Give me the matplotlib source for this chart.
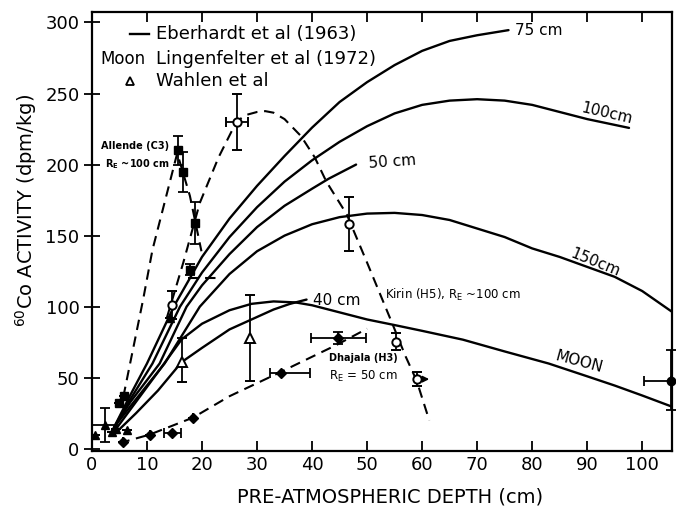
import matplotlib
matplotlib.use("Agg")
import matplotlib.pyplot as plt
import numpy as np

plt.rcParams['font.family'] = ['DejaVu Sans']
plt.rcParams['mathtext.fontset'] = 'dejavusans'

# --- model curves (Eberhardt et al 1963; Moon: Lingenfelter et al 1972) ---
r75_x = [4, 7, 10, 15, 20, 25, 30, 35, 40, 45, 50, 55, 60, 65, 70, 75.7]
r75_y = [15, 38, 60, 101, 135, 162, 185, 206, 226, 244, 258, 270, 280, 287, 291, 294.6]

r100_x = [4, 7, 11, 16, 20, 25, 30, 35, 40, 45, 50, 55, 60, 65, 70, 75, 80, 85, 90, 97.6]
r100_y = [15, 35, 60, 100, 124, 149, 170, 188, 203, 216, 227, 236, 242, 245, 246, 245, 242, 237, 232, 225.8]

r50_x = [4, 7, 12.3, 17.2, 20, 25, 30, 35, 40, 43, 48]
r50_y = [15, 33, 60, 100, 115, 137, 156, 171, 183, 190, 200]

r150_x = [4, 7, 13.2, 19.6, 25, 30, 35, 40, 45, 50, 55, 60, 65, 70, 75, 80, 85, 90, 95, 100, 105.3]
r150_y = [15, 30, 60, 100, 123, 139, 150, 158, 163, 165.5, 166, 164.5, 161, 155, 149, 141, 135, 128, 121, 111, 96.7]

r40_x = [4, 8, 12, 16.3, 20, 25, 29, 33, 36, 39]
r40_y = [10, 25, 41, 61, 71, 84, 91, 98, 102, 105]

moon_x = [4, 8, 12, 16.3, 20, 25, 29, 33, 37, 40, 45, 50, 54.7, 60, 67.4, 75, 83, 90, 95, 100, 105.3]
moon_y = [12, 33, 54, 77, 88, 97.5, 102, 103.7, 103, 101, 96, 91, 87.3, 83, 76.8, 68.5, 60, 51, 44.5, 37.5, 29.8]

# --- dashed trend lines through the meteorite data ---
allende_line_x = [5.7, 9.3, 11, 15.5, 17.8, 19.9]
allende_line_y = [36.5, 105, 140, 208, 178, 139]
allende_bar_x = [17.5, 23]
allende_bar_y = [120, 120]

kirin_line_x = [13.6, 16.6, 19.6, 23, 26.3, 28.1, 30, 31.5, 33, 35, 38, 40.5, 42.6, 46.3, 50, 54.7, 57, 59, 61.3]
kirin_line_y = [92, 131, 173, 205, 230.5, 235, 237, 237.6, 236.5, 232, 220, 205, 188, 165, 131, 87, 65, 48, 20]

dhajala_line_x = [5, 10.5, 18.4, 25, 34, 44.4, 50]
dhajala_line_y = [4, 10, 22, 37, 53.5, 73, 84.5]

# --- measurements ---
allende_x = [15.6, 16.6, 18.7, 17.8, 5.0, 5.8]
allende_y = [210, 195, 159, 126, 32, 37]
allende_err = [10, 14, 15, 4, 0, 0]

kirin_x = [14.5, 26.3, 46.8, 55.3, 59.0]
kirin_y = [101, 230, 158, 75.5, 49]
kirin_yerr = [10, 20, 19, 6, 5]
kirin_xerr = [0, 2, 0, 0, 0]

dhajala_x = [5.7, 10.5, 14.6, 18.3, 34.3, 44.8]
dhajala_y = [4.5, 10, 11, 21.5, 53.3, 78]
dhajala_xerr_lo = [0, 0, 1.5, 0, 2, 5]
dhajala_xerr_hi = [0, 0, 1.5, 0, 5.3, 5]
dhajala_yerr = [0, 0, 0, 0, 0, 4]

wahlen_x = [16.3, 28.7]
wahlen_y = [61, 78]
wahlen_err_lo = [14, 30]
wahlen_err_hi = [17, 30]

small_x = [0.5, 2.4, 3.6, 4.4, 6.3, 14.2]
small_y = [10, 17, 12, 14, 13.5, 92]
small_err = [0, 12, 0, 0, 0, 0]
small_bar_x = [0, 4.5]
small_bar_y = [16.5, 16.5]

edge_x = [105.2]
edge_y = [48]
edge_xerr = [4.8]
edge_yerr_lo = [20.5]
edge_yerr_hi = [21.5]

# --- figure ---
fig = plt.figure(figsize=(6.76, 5.13), dpi=100)
ax = fig.add_axes([0.136, 0.121, 0.858, 0.856])
ax.set_xlim(0, 105.4)
ax.set_ylim(-1.5, 307.5)

LW = 1.7
solid = dict(color='black', lw=LW, solid_capstyle='round', solid_joinstyle='round', zorder=3)
for cx, cy in [(r75_x, r75_y), (r100_x, r100_y), (r50_x, r50_y),
               (r150_x, r150_y), (r40_x, r40_y), (moon_x, moon_y)]:
    ax.plot(cx, cy, **solid)

dash = dict(color='black', lw=1.5, linestyle=(0, (5, 3.2)), zorder=3)
ax.plot(allende_line_x, allende_line_y, **dash)
ax.plot(allende_bar_x, allende_bar_y, **dash)
ax.plot(kirin_line_x, kirin_line_y, **dash)
ax.plot(dhajala_line_x, dhajala_line_y, **dash)

eb = dict(ecolor='black', elinewidth=1.3, capsize=3.5, capthick=1.3, zorder=4, linestyle='none')

ax.errorbar(allende_x, allende_y, yerr=allende_err, fmt='s', ms=6,
            mfc='black', mec='black', **eb)
ax.errorbar(kirin_x, kirin_y, yerr=kirin_yerr, xerr=kirin_xerr, fmt='o', ms=6,
            mfc='white', mec='black', mew=1.4, **eb)
ax.errorbar(dhajala_x, dhajala_y, yerr=dhajala_yerr,
            xerr=[dhajala_xerr_lo, dhajala_xerr_hi], fmt='D', ms=5.5,
            mfc='black', mec='black', **eb)
ax.errorbar(wahlen_x, wahlen_y, yerr=[wahlen_err_lo, wahlen_err_hi], fmt='^', ms=7,
            mfc='white', mec='black', mew=1.4, **eb)
ax.errorbar(small_x, small_y, yerr=small_err, fmt='^', ms=6,
            mfc='black', mec='black', **eb)
ax.plot(small_bar_x, small_bar_y, color='black', lw=1.3, zorder=4)
ax.errorbar(edge_x, edge_y, xerr=[edge_xerr, [0]], yerr=[edge_yerr_lo, edge_yerr_hi],
            fmt='o', ms=6, mfc='black', mec='black', clip_on=False, **eb)

# arrow on the deepest Kirin sample (lower limit on depth)
ax.annotate('', xy=(kirin_x[-1] + 2.8, kirin_y[-1]), xytext=(kirin_x[-1] + 0.6, kirin_y[-1]),
            arrowprops=dict(arrowstyle='-|>', color='black', lw=1.3, mutation_scale=9))

# curve labels
ax.text(76.8, 294, '75 cm', fontsize=11, va='center', ha='left')
ax.text(93.5, 236, '100cm', fontsize=11, va='center', ha='center', rotation=-13)
ax.text(50.2, 202, '50 cm', fontsize=11, va='center', ha='left', rotation=4)
ax.text(91.5, 131, '150cm', fontsize=11, va='center', ha='center', rotation=-22)
ax.text(40.2, 104, '40 cm', fontsize=11, va='center', ha='left')
ax.text(88.5, 61, 'MOON', fontsize=11, va='center', ha='center', rotation=-15)

# sample annotations
ax.text(1.7, 213, 'Allende (C3)', fontsize=7, va='center', ha='left', fontweight='bold')
ax.text(2.4, 200, r'$\mathregular{R_E}$ ~100 cm', fontsize=7, va='center', ha='left', fontweight='bold')
ax.text(53.2, 108, r'Kirin (H5), $\mathregular{R_E}$ ~100 cm', fontsize=8.5, va='center', ha='left')
ax.text(43.0, 64, 'Dhajala (H3)', fontsize=7, va='center', ha='left', fontweight='bold')
ax.text(43.0, 51, r'$\mathregular{R_E}$ = 50 cm', fontsize=8.5, va='center', ha='left')

# key in the upper left
ax.plot([6.9, 10.4], [292, 292], color='black', lw=LW)
ax.text(11.6, 292, 'Eberhardt et al (1963)', fontsize=13, va='center', ha='left')
ax.text(1.6, 274.5, 'Moon', fontsize=12, va='center', ha='left')
ax.text(11.6, 274.5, 'Lingenfelter et al (1972)', fontsize=13, va='center', ha='left')
ax.plot([7.0], [259], marker='^', ms=6, mfc='white', mec='black', mew=1.3, ls='none')
ax.text(11.6, 259, 'Wahlen et al', fontsize=13, va='center', ha='left')

# axes styling
ax.set_xticks(np.arange(0, 101, 10))
ax.set_yticks(np.arange(0, 301, 50))
ax.tick_params(axis='x', which='both', direction='in', top=True, bottom=True,
               length=7, width=1.3, labelsize=13, pad=4)
ax.tick_params(axis='y', which='both', direction='inout', left=True, right=False,
               length=12, width=1.3, labelsize=13, pad=3)
for s in ax.spines.values():
    s.set_linewidth(1.6)

fig.text(0.577, 0.031, 'PRE-ATMOSPHERIC DEPTH (cm)', fontsize=14, ha='center', va='center')
fig.text(0.038, 0.59, r'$^{60}$Co ACTIVITY (dpm/kg)', fontsize=14, ha='center', va='center', rotation=90)

fig.savefig('out.png', dpi=100, facecolor='white')
